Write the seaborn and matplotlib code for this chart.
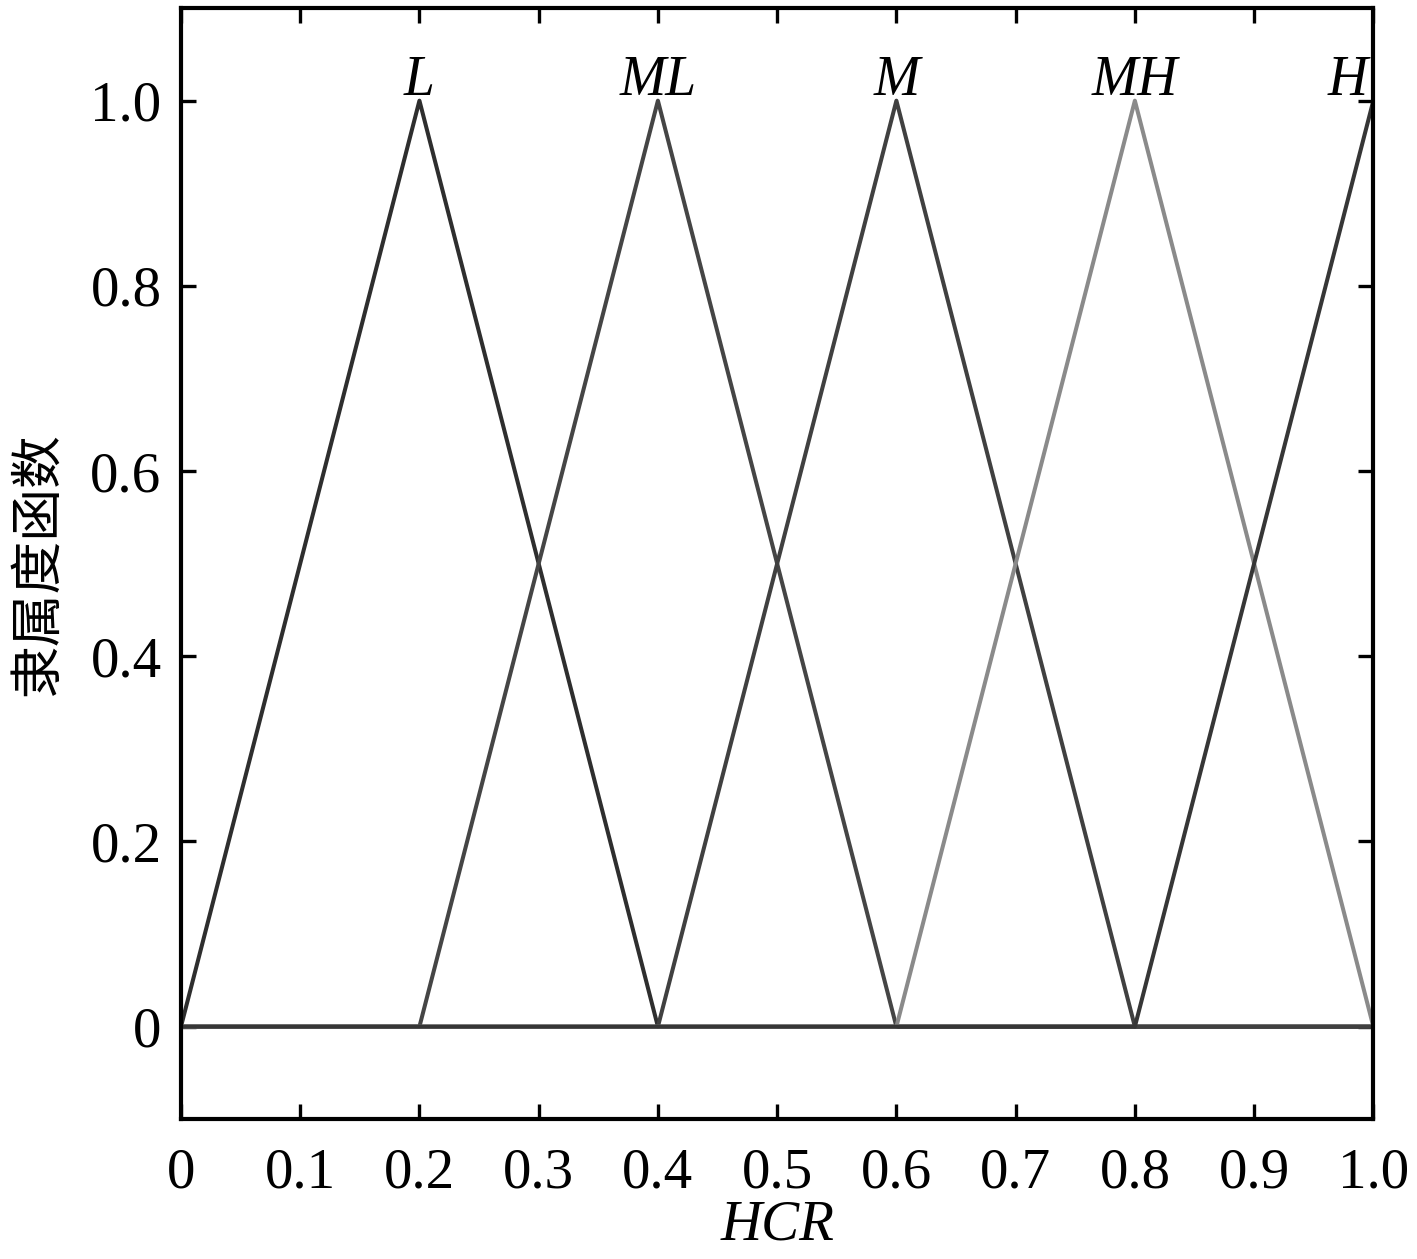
import numpy as np
import pandas as pd
import matplotlib
matplotlib.use("Agg")
import matplotlib.pyplot as plt
import seaborn as sns

# Breakpoints of the triangular membership functions on HCR
hcr = [0.0, 0.2, 0.4, 0.6, 0.8, 1.0]
mu_L = [0, 1, 0, 0, 0, 0]
mu_ML = [0, 0, 1, 0, 0, 0]
mu_M = [0, 0, 0, 1, 0, 0]
mu_MH = [0, 0, 0, 0, 1, 0]
mu_H = [0, 0, 0, 0, 0, 1]
names = ["L", "ML", "M", "MH", "H"]
colors = ["#2e2e2e", "#454545", "#404040", "#8a8a8a", "#363636"]

xticks = [0, 0.1, 0.2, 0.3, 0.4, 0.5, 0.6, 0.7, 0.8, 0.9, 1.0]
xticklabels = ["0", "0.1", "0.2", "0.3", "0.4", "0.5", "0.6", "0.7", "0.8", "0.9", "1.0"]
yticks = [0, 0.2, 0.4, 0.6, 0.8, 1.0]
yticklabels = ["0", "0.2", "0.4", "0.6", "0.8", "1.0"]

sns.set_style("ticks")
plt.rcParams['font.family'] = ['Liberation Serif', 'Noto Sans CJK SC', 'DejaVu Sans']
plt.rcParams['text.color'] = 'black'
plt.rcParams['xtick.color'] = 'black'
plt.rcParams['ytick.color'] = 'black'
plt.rcParams['axes.labelcolor'] = 'black'

df = pd.DataFrame({
    'hcr': hcr * 5,
    'mu': mu_L + mu_ML + mu_M + mu_MH + mu_H,
    'set': [n for n in names for _ in hcr],
})

fig = plt.figure(figsize=(14.17, 12.59), dpi=100)
ax = fig.add_axes([0.1277, 0.111, 0.8415, 0.8826])

for name, col in zip(names, colors):
    sub = df[df['set'] == name]
    sns.lineplot(x='hcr', y='mu', data=sub, color=col, linewidth=2.9,
                 sort=False, estimator=None, ax=ax, legend=False)

# Labels above each peak
for name, xp in zip(names, hcr[1:]):
    ha = 'right' if name == 'H' else 'center'
    xt = xp - 0.005 if name == 'H' else xp
    ax.text(xt, 0.993, name, ha=ha, va='bottom', fontsize=40,
            fontstyle='italic', family='Liberation Serif', color='black')

ax.set_xlim(0, 1)
ax.set_ylim(-0.1, 1.1)
ax.set_xticks(xticks)
ax.set_xticklabels(xticklabels)
ax.set_yticks(yticks)
ax.set_yticklabels(yticklabels)
ax.tick_params(direction='in', length=11, width=2.4, labelsize=41,
               top=True, right=True)
ax.tick_params(axis='x', pad=20)
ax.tick_params(axis='y', pad=14)

for sp in ax.spines.values():
    sp.set_linewidth(3)
    sp.set_color('black')

ax.set_xlabel('HCR', fontsize=41, fontstyle='italic', labelpad=0)
ax.set_ylabel('隶属度函数', fontsize=38, family=['Noto Sans CJK SC'], labelpad=18)

plt.savefig('out.png', dpi=100)
plt.close()
